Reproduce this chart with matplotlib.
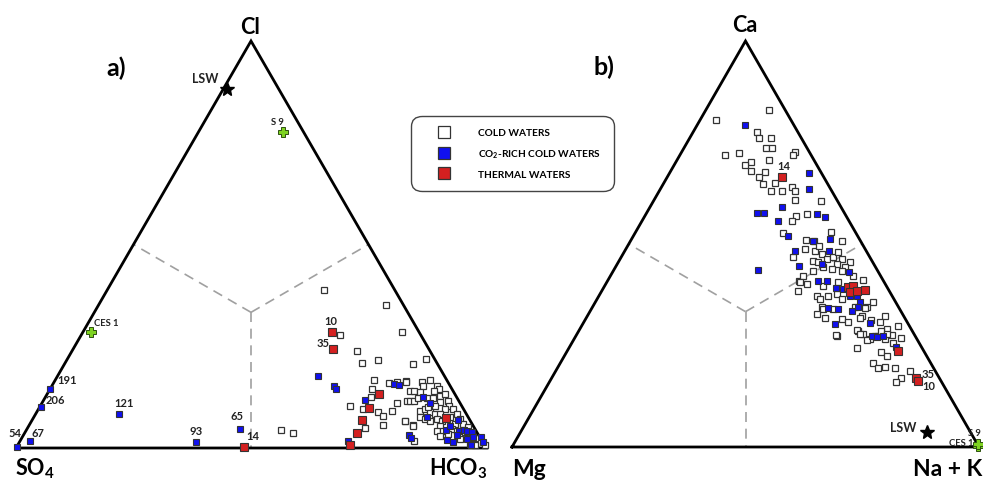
import numpy as np
import matplotlib
matplotlib.use('Agg')
import matplotlib.pyplot as plt
from matplotlib.lines import Line2D

plt.rcParams['font.family'] = ['Lato', 'DejaVu Sans']
plt.rcParams['font.weight'] = 'bold'
plt.rcParams['mathtext.fontset'] = 'custom'
plt.rcParams['mathtext.rm'] = 'Lato:bold'
plt.rcParams['mathtext.bf'] = 'Lato:bold'
plt.rcParams['mathtext.default'] = 'bf'

# ---- a) anions, % of Cl (top) and HCO3 (right); SO4 is the rest ----
cold_a_cl = [38.8, 35.1, 27.8, 28.5, 23.8, 20.9, 21.6, 20.6, 21.9, 16.7, 16.0, 16.2, 16.5, 14.5,
             12.5, 10.3, 9.6, 8.8, 7.9, 9.1, 11.1, 5.7, 4.9, 6.6, 5.7, 1.7, 4.4, 3.7,
             16.2, 16.2, 16.7, 15.2, 15.2, 14.5, 14.0, 14.0, 14.0, 13.8, 11.5, 11.5, 11.5, 12.3,
             12.3, 12.3, 12.8, 11.3, 10.3, 11.5, 10.3, 9.6, 9.6, 9.1, 9.6, 8.8, 8.4, 8.4, 7.6, 7.1,
             6.6, 7.1, 6.6, 8.4, 7.1, 5.9, 5.9, 4.7, 4.2, 5.2, 5.4, 4.2, 4.2, 3.4, 2.9, 6.6, 5.4,
             2.2, 2.7, 1.0, 1.0, 10.1, 13.3, 7.6, 3.9, 0.7, 0.7]
cold_a_hco3 = [46.1, 61.1, 55.0, 67.9, 60.7, 63.2, 66.2, 74.2, 76.3, 67.8, 71.4, 73.0, 74.7, 68.5,
               69.3, 65.9, 69.0, 72.6, 74.1, 75.5, 75.5, 75.2, 71.8, 79.5, 81.6, 83.8, 54.2, 57.1,
               74.9, 78.3, 79.8, 79.0, 82.0, 82.8, 81.9, 76.8, 77.7, 79.1, 77.5, 78.1, 79.0, 79.4,
               81.3, 82.6, 83.8, 84.6, 84.0, 86.2, 87.0, 88.2, 86.5, 81.5, 82.2, 83.7, 84.9, 86.0,
               82.2, 83.5, 84.8, 86.1, 87.3, 89.6, 91.0, 92.2, 90.5, 90.5, 91.7, 93.6, 87.5, 87.5,
               88.8, 90.2, 88.8, 79.5, 81.8, 93.4, 95.7, 97.2, 96.1, 82.6, 84.6, 88.5, 93.6, 97.3, 99.4]
co2_a_cl = [0.3, 1.7, 10.1, 14.5, 8.4, 1.5, 4.7, 17.7, 15.2, 14.5, 11.8, 15.7, 15.5, 1.7, 3.2, 2.5,
            12.5, 11.1, 7.6, 6.9, 4.4, 5.4, 4.2, 4.4, 4.2, 3.9, 2.7, 2.0, 1.5, 3.2, 2.2, 0.7, 2.7, 1.5]
co2_a_hco3 = [0.0, 2.1, 0.3, 0.0, 17.7, 37.5, 45.3, 55.4, 60.1, 60.8, 68.4, 72.6, 73.7, 69.8, 82.0, 82.8,
              80.3, 82.5, 83.6, 90.6, 89.3, 89.6, 92.2, 93.1, 93.9, 95.1, 95.9, 90.7, 92.3, 92.2, 94.9,
              96.5, 97.6, 98.7]
th_a_cl = [28.5, 24.3, 13.3, 9.8, 6.9, 3.7, 0.7, 7.4, 0.25]
th_a_hco3 = [53.0, 55.3, 70.6, 70.2, 70.2, 70.7, 70.7, 87.8, 48.4]

lsw_a = (88.2, 0.8)
s9_a = (77.6, 18.0)
ces1_a = (28.5, 1.7)

lab_a = ['54', '67', '206', '191', '121', '93', '65', '10', '35', '14']
lab_a_cl = [0.3, 1.7, 10.1, 14.5, 8.4, 1.5, 4.7, 28.5, 24.3, 0.25]
lab_a_hco3 = [0.0, 2.1, 0.3, 0.0, 17.7, 37.5, 45.3, 53.0, 55.3, 48.4]
lab_a_off = [(-1.5, 10), (6, 6), (10.5, 5), (12.5, 6.5), (4, 8), (0, 8), (-2, 9.5), (-1, 8), (-7, 5), (6, 8.5)]

# ---- b) cations, % of Ca (top) and Na + K (right); Mg is the rest ----
cold_b_ca = [80.5, 83.0, 77.6, 76.1, 76.1, 73.6, 73.6, 72.4, 71.9, 72.7, 71.9, 70.2, 69.5, 70.7, 68.0,
             67.7, 66.5, 65.0, 64.8, 64.0, 63.1, 63.1, 63.1, 56.9, 55.7, 52.7, 46.8, 40.9, 60.8, 60.6,
             57.4, 51.0, 50.7, 53.0, 50.7, 48.8, 48.3, 49.5, 47.5, 45.8, 45.6, 46.3, 46.8, 48.0, 46.3,
             45.6, 45.1, 44.3, 43.8, 44.3, 43.3, 42.1, 43.3, 42.1, 40.6, 40.1, 38.4, 39.7, 40.6, 41.1,
             35.7, 37.2, 37.2, 37.7, 36.5, 34.5, 34.0, 34.0, 34.5, 34.5, 32.3, 31.5, 30.8, 27.3, 28.6,
             27.8, 32.3, 30.8, 29.1, 26.6, 27.3, 26.6, 34.2, 31.8, 31.3, 29.8, 27.6, 28.6, 27.8, 28.8,
             27.8, 26.4, 27.3, 26.8, 24.4, 23.4, 22.4, 25.6, 20.7, 19.5, 19.7, 19.5, 18.7, 17.0, 16.0,
             27.6, 31.8, 32.8, 36.5]
cold_b_nak = [3.4, 13.5, 13.7, 14.9, 17.4, 17.6, 18.9, 12.4, 9.7, 24.3, 24.2, 16.1, 15.1, 19.7, 17.2,
              20.3, 19.6, 23.8, 21.3, 28.0, 23.9, 26.2, 29.0, 32.3, 32.1, 31.6, 36.8, 41.0, 30.2, 35.9,
              34.5, 37.5, 39.3, 41.8, 45.3, 38.3, 40.7, 41.0, 42.6, 41.6, 42.7, 44.3, 45.3, 45.8, 47.5,
              49.6, 47.0, 49.1, 46.6, 44.4, 42.8, 41.2, 49.0, 51.9, 41.4, 43.1, 42.0, 46.7, 49.5, 54.6,
              59.4, 49.1, 46.7, 50.7, 52.4, 49.1, 49.6, 51.7, 56.1, 58.7, 58.7, 54.9, 56.5, 56.0, 59.8,
              61.3, 63.7, 63.4, 65.7, 63.4, 64.8, 66.6, 58.5, 58.6, 61.2, 67.8, 67.6, 64.7, 66.4, 59.5,
              60.6, 62.8, 64.0, 69.9, 61.7, 67.3, 69.1, 68.8, 67.0, 68.6, 70.0, 72.3, 75.9, 74.8, 74.2,
              55.6, 51.1, 48.9, 47.7]
co2_b_ca = [79.3, 59.1, 57.6, 57.6, 55.7, 52.0, 48.3, 43.6, 44.6, 67.5, 63.5, 57.4, 56.7, 50.7, 51.2,
            48.3, 45.1, 43.1, 40.9, 40.9, 39.2, 38.9, 37.2, 37.2, 35.7, 34.2, 34.0, 33.5, 34.5, 30.3,
            30.5, 27.3, 27.1, 27.3, 24.6]
co2_b_nak = [10.3, 28.3, 23.7, 25.2, 29.2, 33.1, 36.5, 30.9, 39.2, 29.9, 31.9, 36.6, 38.7, 39.2, 42.5,
             43.8, 43.9, 50.6, 45.1, 47.1, 49.8, 51.5, 53.8, 55.3, 56.7, 50.6, 52.8, 56.1, 56.9, 54.1,
             61.5, 63.5, 64.7, 65.8, 69.9]
th_b_ca = [66.5, 39.4, 39.7, 38.2, 38.4, 38.7, 23.6, 17.0, 16.3]
th_b_nak = [24.6, 52.2, 53.2, 53.3, 54.7, 56.3, 70.9, 78.0, 78.8]

lsw_b = (3.7, 87.0)
s9_b = (0.25, 99.7)
ces1_b = (0.7, 99.4)

lab_b = ['14', '35', '10']
lab_b_ca = [66.5, 17.0, 16.3]
lab_b_nak = [24.6, 78.0, 78.8]
lab_b_off = [(1, 8), (8.5, 3), (8, -3.5)]

H3 = np.sqrt(3) / 2
W, H = 983, 481


def tern(top, right):
    top = np.asarray(top, dtype=float) / 100
    right = np.asarray(right, dtype=float) / 100
    return right + top / 2, top * H3


def frame(ax):
    ax.set_xlim(0, 1)
    ax.set_ylim(0, H3)
    ax.axis('off')
    c = (0.5, H3 / 3)
    for mx, my in [(0.25, H3 / 2), (0.75, H3 / 2), (0.5, 0)]:
        ax.plot([c[0], mx], [c[1], my], color='#a0a0a0', lw=1.2, dashes=(6, 4))
    ax.plot([0, 1, 0.5, 0], [0, 0, H3, 0], color='black', lw=2, clip_on=False,
            solid_joinstyle='miter')


def points(ax, cold, co2, th):
    ax.plot(*tern(*cold), 's', ms=4.2, mfc='white', mec='#333333', mew=0.9, ls='none', clip_on=False)
    ax.plot(*tern(*co2), 's', ms=4.0, mfc='#1010f0', mec='#333333', mew=0.8, ls='none', clip_on=False)
    ax.plot(*tern(*th), 's', ms=5.6, mfc='#d42020', mec='#333333', mew=0.8, ls='none', clip_on=False)


fig = plt.figure(figsize=(W / 100, H / 100), dpi=100)
ax_a = fig.add_axes([16 / W, 1 - 449 / H, 470 / W, 407 / H])
ax_b = fig.add_axes([512 / W, 1 - 448 / H, 467 / W, 406 / H])
frame(ax_a)
frame(ax_b)

points(ax_a, (cold_a_cl, cold_a_hco3), (co2_a_cl, co2_a_hco3), (th_a_cl, th_a_hco3))
points(ax_b, (cold_b_ca, cold_b_nak), (co2_b_ca, co2_b_nak), (th_b_ca, th_b_nak))

for ax, lsw, s9, ces in [(ax_a, lsw_a, s9_a, ces1_a), (ax_b, lsw_b, s9_b, ces1_b)]:
    ax.plot(*tern(lsw[0], lsw[1]), '*', ms=10, color='black', clip_on=False)
    ax.plot(*tern([s9[0], ces[0]], [s9[1], ces[1]]), 'P', ms=7.5, mfc='#7ed321', mec='#2d5010',
            mew=0.7, ls='none', clip_on=False)

# point labels
for t, a, b, off in zip(lab_a, lab_a_cl, lab_a_hco3, lab_a_off):
    ax_a.annotate(t, tern(a, b), xytext=off, textcoords='offset points', ha='center', va='center',
                  fontsize=8, color='#222222')
for t, a, b, off in zip(lab_b, lab_b_ca, lab_b_nak, lab_b_off):
    ax_b.annotate(t, tern(a, b), xytext=off, textcoords='offset points', ha='center', va='center',
                  fontsize=8, color='#222222')
ax_a.annotate('LSW', tern(*lsw_a), xytext=(-16, 8), textcoords='offset points', ha='center',
              va='center', fontsize=9, color='#222222')
ax_b.annotate('LSW', tern(*lsw_b), xytext=(-17, 3.5), textcoords='offset points', ha='center',
              va='center', fontsize=9, color='#222222')
ax_a.annotate('S 9', tern(*s9_a), xytext=(-4, 8), textcoords='offset points', ha='center',
              va='center', fontsize=6.8, color='#222222')
ax_a.annotate('CES 1', tern(*ces1_a), xytext=(11, 7), textcoords='offset points', ha='center',
              va='center', fontsize=6.8, color='#222222')
ax_b.annotate('CES 1', tern(*ces1_b), xytext=(-12, 1.5), textcoords='offset points', ha='center',
              va='center', fontsize=6.8, color='#222222')
ax_b.annotate('S 9', tern(*s9_b), xytext=(2, 10), textcoords='offset points', ha='right',
              va='center', fontsize=6.8, color='#222222', annotation_clip=False)

# vertex labels and panel letters
fig.text(250 / W, 1 - 27 / H, 'Cl', ha='center', va='center', fontsize=15.5)
fig.text(745 / W, 1 - 26 / H, 'Ca', ha='center', va='center', fontsize=15.5)
fig.text(15 / W, 1 - 475 / H, 'SO$_4$', ha='left', va='baseline', fontsize=15.5)
fig.text(487 / W, 1 - 475 / H, 'HCO$_3$', ha='right', va='baseline', fontsize=15.5)
fig.text(512 / W, 1 - 476 / H, 'Mg', ha='left', va='baseline', fontsize=16.5)
fig.text(982 / W, 1 - 476 / H, 'Na + K', ha='right', va='baseline', fontsize=16.5)
fig.text(116 / W, 1 - 68 / H, 'a)', ha='center', va='center', fontsize=18)
fig.text(604 / W, 1 - 67 / H, 'b)', ha='center', va='center', fontsize=18)

# legend
handles = [
    Line2D([], [], marker='s', ms=8.5, mfc='white', mec='#333333', mew=0.9, ls='none'),
    Line2D([], [], marker='s', ms=8.5, mfc='#1010f0', mec='#333333', mew=0.9, ls='none'),
    Line2D([], [], marker='s', ms=8.5, mfc='#d42020', mec='#333333', mew=0.9, ls='none'),
]
labels = ['COLD WATERS', 'CO$_2$-RICH COLD WATERS', 'THERMAL WATERS']
leg = fig.legend(handles, labels, loc='center', bbox_to_anchor=(512.5 / W, 1 - 154.5 / H),
                 fontsize=7.3, frameon=True, fancybox=True, handlelength=4, handletextpad=1.4,
                 borderpad=1.2, labelspacing=1.0, borderaxespad=0)
fr = leg.get_frame()
fr.set_edgecolor('#444444')
fr.set_linewidth(1.0)
fr.set_alpha(1)
fr.set_boxstyle('round,pad=0,rounding_size=1.0')

fig.savefig('out.png', dpi=100)
